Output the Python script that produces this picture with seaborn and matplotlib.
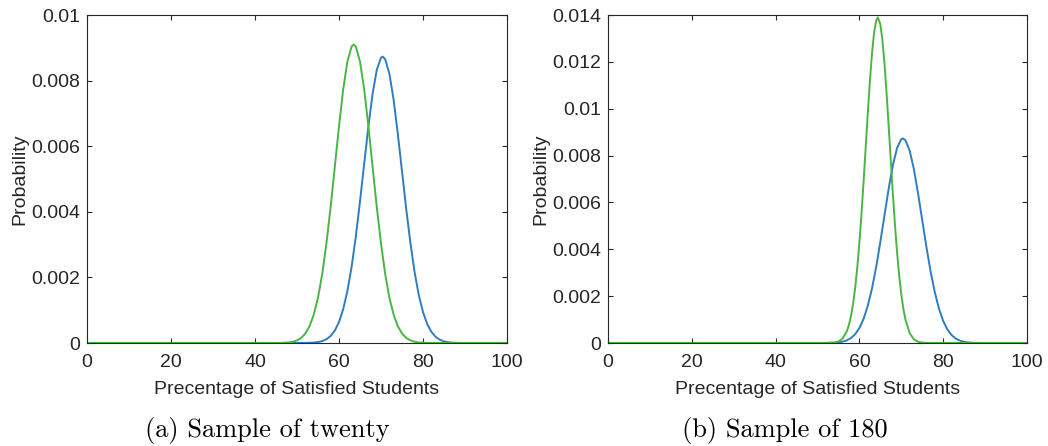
import matplotlib
matplotlib.use("Agg")
import matplotlib.pyplot as plt
import seaborn as sns
import pandas as pd

# ---------------- data ----------------
blue_x = [0, 50, 52, 54, 55, 56, 57, 58, 59, 60, 61, 62, 63, 64, 65, 66, 67, 68, 69,
          70, 70.4, 71, 72, 73, 74, 75, 76, 77, 78, 79, 80, 81, 82, 83, 84, 85, 86,
          87, 88, 90, 100]
blue_y = [0, 0, 0.0000024, 0.000013, 0.000028, 0.000058, 0.000114, 0.000213,
          0.000378, 0.00064, 0.00103, 0.00159, 0.00232, 0.00324, 0.00432, 0.00547,
          0.00660, 0.00760, 0.00833, 0.00870, 0.00873, 0.00865, 0.00821, 0.00742,
          0.00638, 0.00524, 0.00409, 0.00305, 0.00216, 0.00146, 0.000943, 0.000579,
          0.000339, 0.000189, 0.000100, 0.000050, 0.000024, 0.000011, 0.000005, 0, 0]

green_a_x = [0, 44, 46, 48, 49, 50, 51, 52, 53, 54, 55, 56, 57, 58, 59, 60, 61, 62,
             63, 63.5, 64, 65, 66, 67, 68, 69, 70, 71, 72, 73, 74, 75, 76, 77, 78,
             79, 81, 83, 100]
green_a_y = [0, 0, 0.000003, 0.000017, 0.000038, 0.000079, 0.000155, 0.00029,
             0.000514, 0.000866, 0.00138, 0.0021, 0.00303, 0.00414, 0.00537,
             0.00661, 0.00773, 0.00858, 0.00904, 0.00910, 0.00904, 0.00858, 0.00773,
             0.00661, 0.00537, 0.00414, 0.00303, 0.0021, 0.00138, 0.000866,
             0.000514, 0.00029, 0.000155, 0.000079, 0.000038, 0.000017, 0.000003,
             0, 0]

green_b_x = [0, 52, 54, 55, 56, 57, 57.5, 58, 58.5, 59, 59.5, 60, 60.5, 61, 61.5,
             62, 62.5, 63, 63.5, 64, 64.4, 65, 65.5, 66, 66.5, 67, 67.5, 68, 68.5,
             69, 69.5, 70, 70.5, 71, 72, 73, 74, 75, 77, 100]
green_b_y = [0, 0, 0.00002, 0.000065, 0.00019, 0.0005, 0.00077, 0.00116, 0.00168,
             0.00237, 0.00323, 0.00429, 0.00552, 0.00689, 0.00834, 0.0098, 0.01116,
             0.01234, 0.01323, 0.01376, 0.0139, 0.0136, 0.01292, 0.0119, 0.01063,
             0.00922, 0.00776, 0.00633, 0.00501, 0.00385, 0.00287, 0.00207, 0.00145,
             0.00099, 0.00042, 0.000156, 0.000052, 0.000015, 0, 0]

x_ticks = [0, 20, 40, 60, 80, 100]
x_tick_labels = ["0", "20", "40", "60", "80", "100"]
a_y_ticks = [0, 0.002, 0.004, 0.006, 0.008, 0.01]
a_y_tick_labels = ["0", "0.002", "0.004", "0.006", "0.008", "0.01"]
b_y_ticks = [0, 0.002, 0.004, 0.006, 0.008, 0.01, 0.012, 0.014]
b_y_tick_labels = ["0", "0.002", "0.004", "0.006", "0.008", "0.01", "0.012", "0.014"]

x_label = "Precentage of Satisfied Students"
y_label = "Probability"
captions = ["(a) Sample of twenty", "(b) Sample of 180"]

# ---------------- style ----------------
sns.set_style("ticks")
plt.rcParams["font.family"] = ["Liberation Sans", "DejaVu Sans"]

BLUE = "#2f7cc0"
GREEN = "#4ab544"
TXT = "#262626"

fig = plt.figure(figsize=(10.48, 4.46), dpi=100)
ax_a = fig.add_axes([87 / 1048, 1 - 343 / 446, 420 / 1048, 328 / 446])
ax_b = fig.add_axes([608 / 1048, 1 - 343 / 446, 419 / 1048, 328 / 446])

panels = [
    (ax_a, green_a_x, green_a_y, a_y_ticks, a_y_tick_labels, 0.01),
    (ax_b, green_b_x, green_b_y, b_y_ticks, b_y_tick_labels, 0.014),
]

for ax, gx, gy, yt, ytl, ymax in panels:
    dfb = pd.DataFrame({"x": blue_x, "y": blue_y})
    dfg = pd.DataFrame({"x": gx, "y": gy})
    sns.lineplot(data=dfb, x="x", y="y", ax=ax, color=BLUE, linewidth=1.4)
    sns.lineplot(data=dfg, x="x", y="y", ax=ax, color=GREEN, linewidth=1.4)
    ax.set_xlim(0, 100)
    ax.set_ylim(0, ymax)
    ax.set_xticks(x_ticks)
    ax.set_xticklabels(x_tick_labels)
    ax.set_yticks(yt)
    ax.set_yticklabels(ytl)
    ax.tick_params(direction="in", length=3.5, width=0.8, colors=TXT,
                   labelsize=14, top=True, right=True)
    ax.tick_params(axis="x", pad=8)
    ax.tick_params(axis="y", pad=5)
    for s in ax.spines.values():
        s.set_visible(True)
        s.set_color(TXT)
        s.set_linewidth(0.8)
    ax.set_xlabel(x_label, fontsize=14, color=TXT, labelpad=7)
    ax.set_ylabel(y_label, fontsize=14, color=TXT, labelpad=2)

fig.text(267 / 1048, 0.034, captions[0], ha="center", va="center",
         fontsize=19, family=["cmr10", "DejaVu Serif"], color="black")
fig.text(785 / 1048, 0.034, captions[1], ha="center", va="center",
         fontsize=19, family=["cmr10", "DejaVu Serif"], color="black")

fig.savefig("out.png", dpi=100)
